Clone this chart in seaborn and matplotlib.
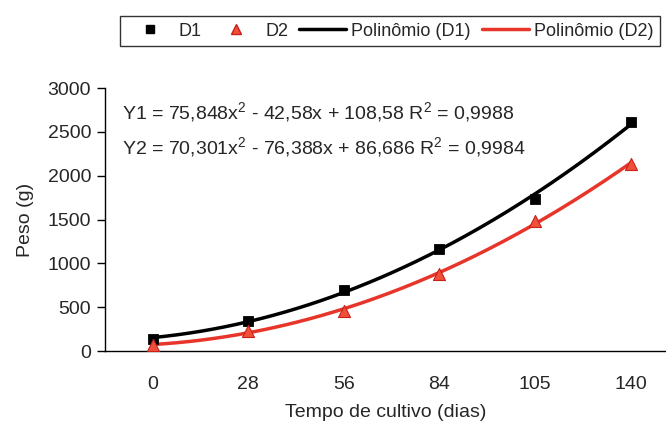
import numpy as np
import pandas as pd
import matplotlib
matplotlib.use("Agg")
import matplotlib.pyplot as plt
import seaborn as sns
from matplotlib.lines import Line2D

# Data
days = ["0", "28", "56", "84", "105", "140"]
d1 = [140, 342, 696, 1160, 1737, 2612]
d2 = [70, 228, 460, 880, 1487, 2130]
eq1 = "Y1 = 75,848x$^2$ - 42,58x + 108,58 R$^2$ = 0,9988"
eq2 = "Y2 = 70,301x$^2$ - 76,388x + 86,686 R$^2$ = 0,9984"
yticks = [0, 500, 1000, 1500, 2000, 2500, 3000]

sns.set_theme(style="white")
plt.rcParams['font.family'] = ['Liberation Sans', 'DejaVu Sans']
plt.rcParams['mathtext.fontset'] = 'custom'
plt.rcParams['mathtext.rm'] = 'Liberation Sans'
plt.rcParams['mathtext.it'] = 'Liberation Sans'
plt.rcParams['mathtext.default'] = 'regular'

fig = plt.figure(figsize=(6.66, 4.25), dpi=100)
ax = fig.add_axes([105/666, (425-351)/425, 1 - 105/666, (351-88)/425])

idx = np.arange(len(days))
df = pd.DataFrame({"idx": idx, "D1": d1, "D2": d2})

# polynomial trendlines (Excel-style, x = 1..n) fitted from the data
xs = np.linspace(1, len(days), 200)
c1 = np.polyfit(idx + 1, d1, 2)
c2 = np.polyfit(idx + 1, d2, 2)
fit = pd.DataFrame({"x": xs - 1, "f1": np.polyval(c1, xs), "f2": np.polyval(c2, xs)})

sns.lineplot(data=fit, x="x", y="f1", ax=ax, color="black", lw=2.5, zorder=2)
sns.lineplot(data=fit, x="x", y="f2", ax=ax, color="#e8352a", lw=2.5, zorder=2)
sns.scatterplot(data=df, x="idx", y="D1", ax=ax, marker="s", s=55, color="black",
                edgecolor="black", zorder=3)
sns.scatterplot(data=df, x="idx", y="D2", ax=ax, marker="^", s=75, color="#f0503a",
                edgecolor="#c8201a", linewidth=0.8, zorder=3)

ax.set_xlim(-0.5, 5.37)
ax.set_ylim(0, 3000)
ax.set_yticks(yticks)
ax.set_yticklabels([str(v) for v in yticks])
ax.set_xticks(idx)
ax.set_xticklabels(days)
ax.set_xticks(np.arange(-0.5, 5.4, 1.0), minor=True)
ax.tick_params(axis="x", which="major", length=0, pad=18, labelsize=14)
ax.tick_params(axis="x", which="minor", length=6, width=1, color="black", direction="out")
ax.tick_params(axis="y", which="major", length=6, width=1, color="black", direction="out",
               labelsize=14, pad=4, left=True)
for s in ["top", "right"]:
    ax.spines[s].set_visible(False)
for s in ["left", "bottom"]:
    ax.spines[s].set_color("black")
    ax.spines[s].set_linewidth(1)

ax.set_xlabel("Tempo de cultivo (dias)", fontsize=14, labelpad=8)
ax.set_ylabel("Peso (g)", fontsize=14, labelpad=10)

ax.text(122, 425 - 112, eq1, transform=None, fontsize=14, va="center", ha="left")
ax.text(122, 425 - 147, eq2, transform=None, fontsize=14, va="center", ha="left")

handles = [
    Line2D([], [], ls="none", marker="s", color="black", markersize=6),
    Line2D([], [], ls="none", marker="^", markerfacecolor="#f0503a", markeredgecolor="#c8201a", markersize=7),
    Line2D([], [], color="black", lw=2.5),
    Line2D([], [], color="#e8352a", lw=2.5),
]
labels = ["D1", "D2", "Polinômio (D1)", "Polinômio (D2)"]
leg = fig.legend(handles, labels, loc="center", bbox_to_anchor=(390/666, (425-31)/425),
                 ncol=4, frameon=True, fancybox=False, fontsize=13, handlelength=2.6,
                 handletextpad=0.3, columnspacing=0.6, borderpad=0.35)
leg.get_frame().set_edgecolor("black")
leg.get_frame().set_linewidth(1)

fig.savefig("out.png", dpi=100)
